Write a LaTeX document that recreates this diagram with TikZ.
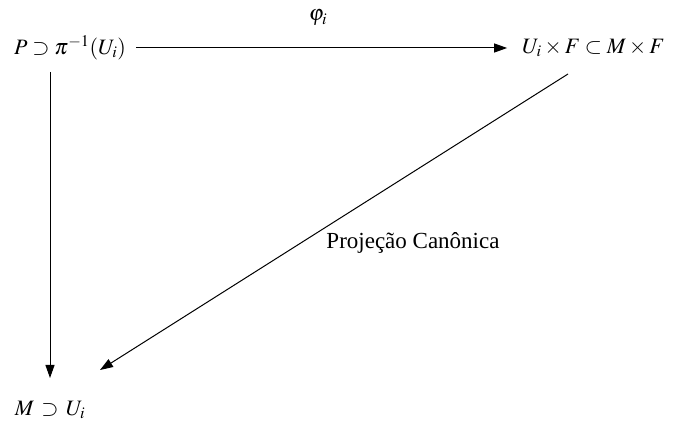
\documentclass[tikz,border=0pt]{standalone}
\usepackage{mathptmx}
\usepackage[no-math]{fontspec}
\setmainfont{Liberation Serif}
\usetikzlibrary{arrows.meta}
\begin{document}
\begin{tikzpicture}[x=1pt,y=-1pt,
  mathlbl/.style={inner sep=0pt,font=\fontsize{22}{26}\selectfont},
  txtlbl/.style={inner sep=0pt,font=\fontsize{23}{27}\selectfont},
  arr/.style={line width=1pt,-{Triangle[length=13pt,width=9pt]}}]
\useasboundingbox (0,0) rectangle (673,427);
\node[mathlbl] (a) at (70,48) {$P\supset\pi^{-1}(U_i)$};
\node[mathlbl] (b) at (593.5,48) {$U_i\times F\subset M\times F$};
\node[mathlbl] (c) at (50,410) {$M\mathrel{\,\supset\,}U_i$};
\node[mathlbl] (phi) at (318,18) {$\varphi_i$};
\node[txtlbl] (proj) at (413,243) {Projeção Canônica};
\coordinate (d1) at (568,74);
\coordinate (d2) at (100,370);
\coordinate (v1) at (50,72);
\coordinate (v2) at (50,378);
\draw[arr] ([xshift=10pt]a.east) -- ([xshift=-15pt]b.west);
\draw[arr] (v1) -- (v2);
\draw[arr] (d1) -- (d2);
\end{tikzpicture}
\end{document}
